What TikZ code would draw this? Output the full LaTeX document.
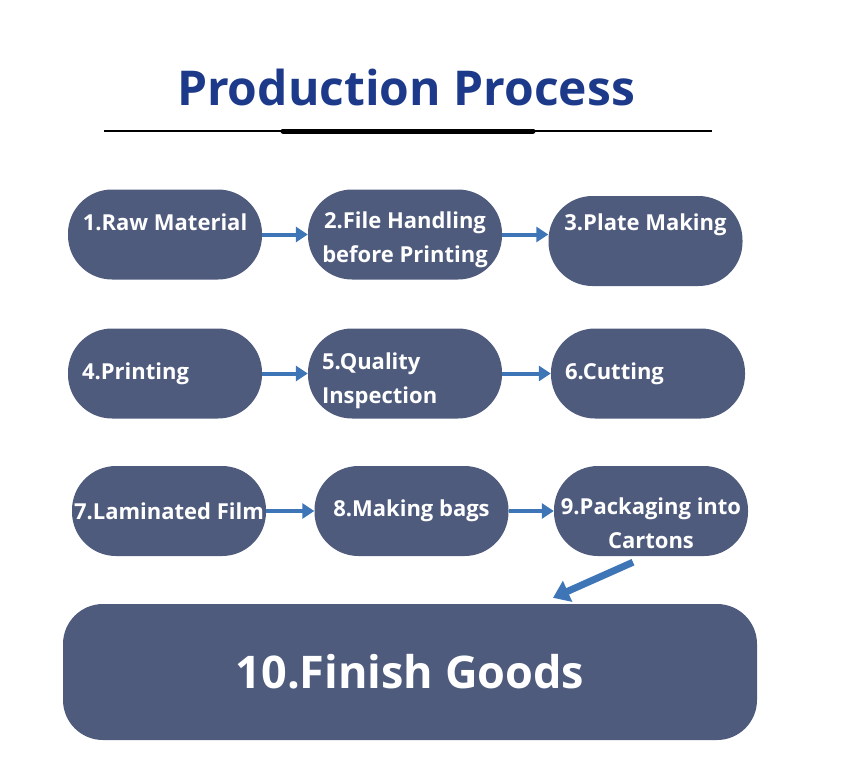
\documentclass[tikz,border=0pt]{standalone}
\usepackage{fontspec}
\setmainfont{Open Sans}
\usetikzlibrary{arrows.meta, positioning}
\definecolor{boxfill}{RGB}{78,91,125}
\definecolor{titleblue}{RGB}{28,57,138}
\definecolor{arrowblue}{RGB}{61,117,183}

\begin{document}
\begin{tikzpicture}[
      x=1pt, y=-1pt,
      stepbox/.style={fill=boxfill, rounded corners=44pt, minimum width=194pt,
        minimum height=90pt, inner sep=0pt, text=white, align=center,
        font=\bfseries\fontsize{22}{34}\selectfont},
      lefttext/.style={text width=166pt, align=left},
      flow/.style={draw=arrowblue, line width=4pt,
        -{Triangle[length=12pt, width=15pt]}},
      bigflow/.style={draw=arrowblue, line width=7pt,
        -{Triangle[length=16pt, width=22pt]}}
    ]
      \useasboundingbox (0,0) rectangle (845,772);

      % title and rule
      \node[text=titleblue, font=\bfseries\fontsize{48}{52}\selectfont] (title) at (406,87) {Production Process};
      \draw[line width=1.5pt] (104,131) -- (712,131);
      \draw[line width=5pt, line cap=round] (283,131) -- (533,131);

      % row 1
      \node[stepbox, text depth=24pt] (raw) at (165,234.5) {1.Raw Material};
      \node[stepbox, text height=61pt] (file) at (405,234.5) {2.File Handling\\before Printing};
      \node[stepbox, text depth=37pt] (plate) at (645.5,241) {3.Plate Making};

      % row 2
      \node[stepbox, lefttext] (print) at (165,373.5) {4.Printing};
      \node[stepbox, lefttext, text height=31pt] (quality) at (405,373.5) {5.Quality\\Inspection};
      \node[stepbox, lefttext] (cut) at (648,373.5) {6.Cutting};

      % row 3
      \node[stepbox] (film) at (169,511) {7.Laminated Film};
      \node[stepbox] (bags) at (411.5,511) {8.Making bags};
      \node[stepbox, text height=76pt] (pack) at (651,511) {9.Packaging into\\Cartons};

      % last step
      \node[stepbox, minimum width=694pt, minimum height=136pt, rounded corners=40pt,
        font=\bfseries\fontsize{45}{50}\selectfont] (goods) at (410,672) {10.Finish Goods};

      \draw[flow] (raw.east) -- (file.west);
      \draw[flow] (file.east) -- (file.east -| plate.west);
      \draw[flow] (print.east) -- (quality.west);
      \draw[flow] (quality.east) -- (cut.west);
      \draw[flow] (film.east) -- (bags.west);
      \draw[flow] (bags.east) -- (pack.west);
      \draw[bigflow] ([xshift=-18pt, yshift=-6pt]pack.south) -- ([xshift=143pt, yshift=6pt]goods.north);
    \end{tikzpicture}
\end{document}
